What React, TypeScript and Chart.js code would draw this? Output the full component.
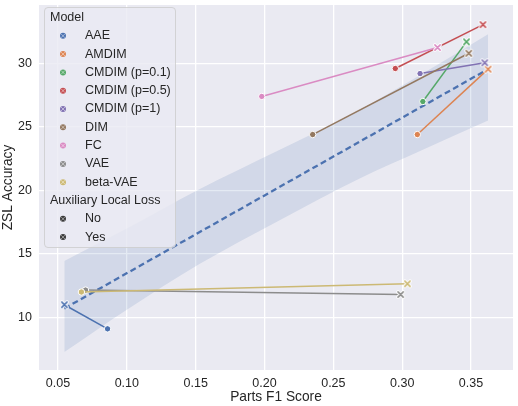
import React, { useEffect, useRef } from "react";
import { Chart, registerables } from "chart.js";
Chart.register(...registerables);

const FONT = '"Liberation Sans", Arial, Helvetica, sans-serif';
const TEXT = "#262626";

const models = ["AAE", "AMDIM", "CMDIM (p=0.1)", "CMDIM (p=0.5)", "CMDIM (p=1)", "DIM", "FC", "VAE", "beta-VAE"];
const modelColors = ["#4C72B0", "#DD8452", "#55A868", "#C44E52", "#8172B3", "#937860", "#DA8BC3", "#8C8C8C", "#CCB974"];
// Auxiliary Local Loss = No
const f1No = [0.086, 0.311, 0.315, 0.295, 0.313, 0.235, 0.198, 0.070, 0.067];
const zslNo = [9.1, 24.4, 27.0, 29.6, 29.2, 24.4, 27.4, 12.15, 12.0];
// Auxiliary Local Loss = Yes
const f1Yes = [0.0546, 0.3624, 0.3467, 0.3587, 0.36, 0.3484, 0.3257, 0.2989, 0.3038];
const zslYes = [11.0, 29.55, 31.7, 33.05, 30.05, 30.8, 31.25, 11.8, 12.65];
// regression line and its confidence band
const regX = [0.0546, 0.3624];
const regY = [10.7, 29.55];
const bandX = [0.0546, 0.10, 0.1527, 0.21, 0.2684, 0.315, 0.3624];
const bandUpper = [14.45, 17.0, 20.1, 23.15, 26.3, 29.2, 32.3];
const bandLower = [7.27, 10.6, 14.2, 17.6, 20.9, 23.2, 25.5];
// ticks
const xTicks = [0.05, 0.1, 0.15, 0.2, 0.25, 0.3, 0.35];
const yTicks = [10, 15, 20, 25, 30];
const legendTitles = ["Model", "Auxiliary Local Loss"];
const lossLabels = ["No", "Yes"];

function makeXMarker(color: string, size = 11, arm = 2.6, inner = 1.6, outer = 3.6) {
  const c = document.createElement("canvas");
  c.width = size;
  c.height = size;
  const g = c.getContext("2d")!;
  const m = size / 2;
  const path = () => {
    g.beginPath();
    g.moveTo(m - arm, m - arm);
    g.lineTo(m + arm, m + arm);
    g.moveTo(m + arm, m - arm);
    g.lineTo(m - arm, m + arm);
  };
  g.lineCap = "round";
  path();
  g.strokeStyle = "white";
  g.lineWidth = outer;
  g.stroke();
  path();
  g.strokeStyle = color;
  g.lineWidth = inner;
  g.stroke();
  return c;
}

function roundRectPath(ctx: CanvasRenderingContext2D, x: number, y: number, w: number, h: number, r: number) {
  ctx.beginPath();
  ctx.moveTo(x + r, y);
  ctx.arcTo(x + w, y, x + w, y + h, r);
  ctx.arcTo(x + w, y + h, x, y + h, r);
  ctx.arcTo(x, y + h, x, y, r);
  ctx.arcTo(x, y, x + w, y, r);
  ctx.closePath();
}

const bgPlugin = {
  id: "plotBg",
  beforeDraw(chart: any) {
    const { ctx, chartArea } = chart;
    ctx.save();
    ctx.fillStyle = "#EAEAF2";
    ctx.fillRect(chartArea.left, chartArea.top, chartArea.right - chartArea.left, chartArea.bottom - chartArea.top);
    ctx.restore();
  },
};

const legendPlugin = {
  id: "sbLegend",
  afterDraw(chart: any) {
    const ctx: CanvasRenderingContext2D = chart.ctx;
    ctx.save();
    roundRectPath(ctx, 44.5, 7.5, 131, 240, 3.5);
    ctx.fillStyle = "rgba(234,234,242,0.8)";
    ctx.fill();
    ctx.strokeStyle = "rgba(204,204,204,0.8)";
    ctx.lineWidth = 1;
    ctx.stroke();
    ctx.font = `12.5px ${FONT}`;
    ctx.textBaseline = "middle";
    ctx.textAlign = "left";
    const step = 18.3;
    const y0 = 17.5;
    const mx = 63;
    const tx = 85;
    const circ = (y: number, color: string) => {
      ctx.beginPath();
      ctx.arc(mx, y, 3, 0, Math.PI * 2);
      ctx.fillStyle = color;
      ctx.fill();
      ctx.strokeStyle = "rgba(255,255,255,0.8)";
      ctx.lineWidth = 0.6;
      ctx.beginPath();
      ctx.moveTo(mx - 2, y - 2);
      ctx.lineTo(mx + 2, y + 2);
      ctx.moveTo(mx + 2, y - 2);
      ctx.lineTo(mx - 2, y + 2);
      ctx.stroke();
    };
    ctx.fillStyle = TEXT;
    ctx.fillText(legendTitles[0], 50, y0);
    models.forEach((m, i) => {
      const y = y0 + step * (i + 1);
      circ(y, modelColors[i]);
      ctx.fillStyle = TEXT;
      ctx.fillText(m, tx, y);
    });
    const ya = y0 + step * 10;
    ctx.fillStyle = TEXT;
    ctx.fillText(legendTitles[1], 50, ya);
    lossLabels.forEach((l, i) => {
      const y = ya + step * (i + 1);
      circ(y, "#3a3a3a");
      ctx.fillStyle = TEXT;
      ctx.fillText(l, tx, y);
    });
    ctx.restore();
  },
};

export default function App() {
  const ref = useRef<HTMLCanvasElement>(null);
  useEffect(() => {
    if (!ref.current) return;
    const datasets: any[] = [];
    datasets.push({
      label: "band-lower",
      data: bandX.map((x, i) => ({ x, y: bandLower[i] })),
      borderWidth: 0,
      pointRadius: 0,
      fill: false,
      cubicInterpolationMode: "monotone",
      order: 10,
    });
    datasets.push({
      label: "band-upper",
      data: bandX.map((x, i) => ({ x, y: bandUpper[i] })),
      borderWidth: 0,
      pointRadius: 0,
      fill: "-1",
      backgroundColor: "rgba(76,114,176,0.15)",
      cubicInterpolationMode: "monotone",
      order: 10,
    });
    datasets.push({
      label: "regression",
      data: regX.map((x, i) => ({ x, y: regY[i] })),
      borderColor: "#4C72B0",
      borderWidth: 2.3,
      borderDash: [6, 3.5],
      pointRadius: 0,
      fill: false,
      order: 5,
    });
    models.forEach((m, i) => {
      const c = modelColors[i];
      datasets.push({
        label: m,
        data: [
          { x: f1No[i], y: zslNo[i] },
          { x: f1Yes[i], y: zslYes[i] },
        ],
        borderColor: c,
        borderWidth: 1.5,
        fill: false,
        pointStyle: ["circle", makeXMarker(c)],
        pointRadius: [3.2, 4],
        pointBackgroundColor: c,
        pointBorderColor: "white",
        pointBorderWidth: [1, 0],
        order: -i,
      });
    });

    const chart = new Chart(ref.current, {
      type: "line",
      data: { datasets },
      plugins: [bgPlugin, legendPlugin],
      options: {
        animation: false,
        responsive: false,
        devicePixelRatio: 1,
        layout: { padding: { top: 2, right: 3, left: 0, bottom: 0 } },
        plugins: { legend: { display: false }, tooltip: { enabled: false } },
        events: [],
        scales: {
          x: {
            type: "linear",
            min: 0.0362,
            max: 0.3805,
            grid: { color: "#FFFFFF", lineWidth: 1.3, drawTicks: false },
            border: { display: false },
            afterBuildTicks: (s: any) => {
              s.ticks = xTicks.map((v) => ({ value: v }));
            },
            afterFit: (s: any) => {
              s.height = 36;
              s.paddingLeft = 0;
              s.paddingRight = 0;
              s.paddingTop = 0;
              s.paddingBottom = 0;
            },
            ticks: {
              color: TEXT,
              font: { family: FONT, size: 12.5 },
              padding: 6,
              maxRotation: 0,
              callback: (v: any) => Number(v).toFixed(2),
            },
            title: {
              display: true,
              text: "Parts F1 Score",
              color: TEXT,
              font: { family: FONT, size: 13.75 },
              padding: { top: 0, bottom: 1 },
            },
          },
          y: {
            type: "linear",
            min: 5.86,
            max: 34.6,
            grid: { color: "#FFFFFF", lineWidth: 1.3, drawTicks: false },
            border: { display: false },
            afterBuildTicks: (s: any) => {
              s.ticks = yTicks.map((v) => ({ value: v }));
            },
            afterFit: (s: any) => {
              s.width = 39;
              s.paddingLeft = 0;
              s.paddingRight = 0;
              s.paddingTop = 0;
              s.paddingBottom = 0;
            },
            ticks: {
              color: TEXT,
              font: { family: FONT, size: 12.5 },
              padding: 7,
              callback: (v: any) => String(v),
            },
            title: {
              display: true,
              text: "ZSL Accuracy",
              color: TEXT,
              font: { family: FONT, size: 13.75 },
              padding: { top: 0, bottom: 0 },
            },
          },
        },
      } as any,
    });
    return () => chart.destroy();
  }, []);
  return (
    <div style={{ position: "fixed", left: 0, top: 0, width: 518, height: 406, background: "#fff" }}>
      <canvas ref={ref} width={518} height={406} style={{ display: "block" }} />
    </div>
  );
}
